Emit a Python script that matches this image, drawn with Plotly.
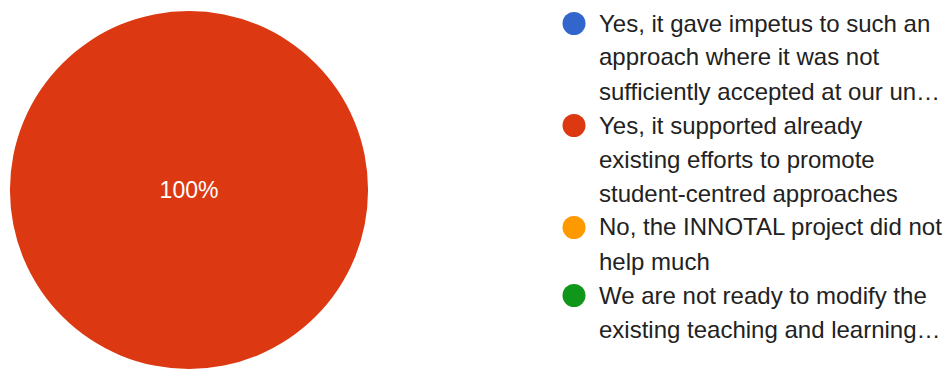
import plotly.graph_objects as go

# Survey answers (legend text is truncated the same way the response summary shows it)
answer_lines = [
    ["Yes, it gave impetus to such an", "approach where it was not", "sufficiently accepted at our un\u2026"],
    ["Yes, it supported already", "existing efforts to promote", "student-centred approaches"],
    ["No, the INNOTAL project did not", "help much"],
    ["We are not ready to modify the", "existing teaching and learning\u2026"],
]
answers = [" ".join(lines) for lines in answer_lines]
responses = [0, 1, 0, 0]
colors = ["#3366CC", "#DC3912", "#FF9900", "#109618"]

W, H = 945, 370
FONT = "'Liberation Sans', Arial, sans-serif"

fig = go.Figure(
    go.Pie(
        labels=answers,
        values=responses,
        sort=False,
        direction="clockwise",
        marker=dict(colors=colors, line=dict(width=0)),
        textinfo="percent",
        textposition="inside",
        insidetextfont=dict(color="white", size=23, family=FONT),
        domain=dict(x=[10 / W, 368 / W], y=[1 - 369 / H, 1 - 11 / H]),
        showlegend=False,
        hoverinfo="label+percent",
    )
)

# Hand-built legend: round swatches with wrapped labels
line_step = 34
first_baseline = 31
text_x = 597
dot_x = 574
shapes = []
annotations = []
row = 0
for lines, color in zip(answer_lines, colors):
    base = first_baseline + row * line_step
    cy = base - 7.5
    shapes.append(dict(
        type="circle", xref="paper", yref="paper",
        xsizemode="pixel", ysizemode="pixel",
        xanchor=dot_x / W, yanchor=1 - cy / H,
        x0=-11.5, x1=11.5, y0=-11.5, y1=11.5,
        fillcolor=color, line=dict(width=0),
    ))
    for line in lines:
        b = first_baseline + row * line_step
        annotations.append(dict(
            text=line, xref="paper", yref="paper",
            x=text_x / W, y=1 - (b - 8) / H,
            xanchor="left", yanchor="middle", showarrow=False,
            font=dict(size=24, color="#222222", family=FONT),
        ))
        row += 1

fig.update_layout(
    width=W, height=H,
    margin=dict(l=0, r=0, t=0, b=0),
    paper_bgcolor="white",
    plot_bgcolor="white",
    shapes=shapes,
    annotations=annotations,
)

fig.write_html("out.html")
